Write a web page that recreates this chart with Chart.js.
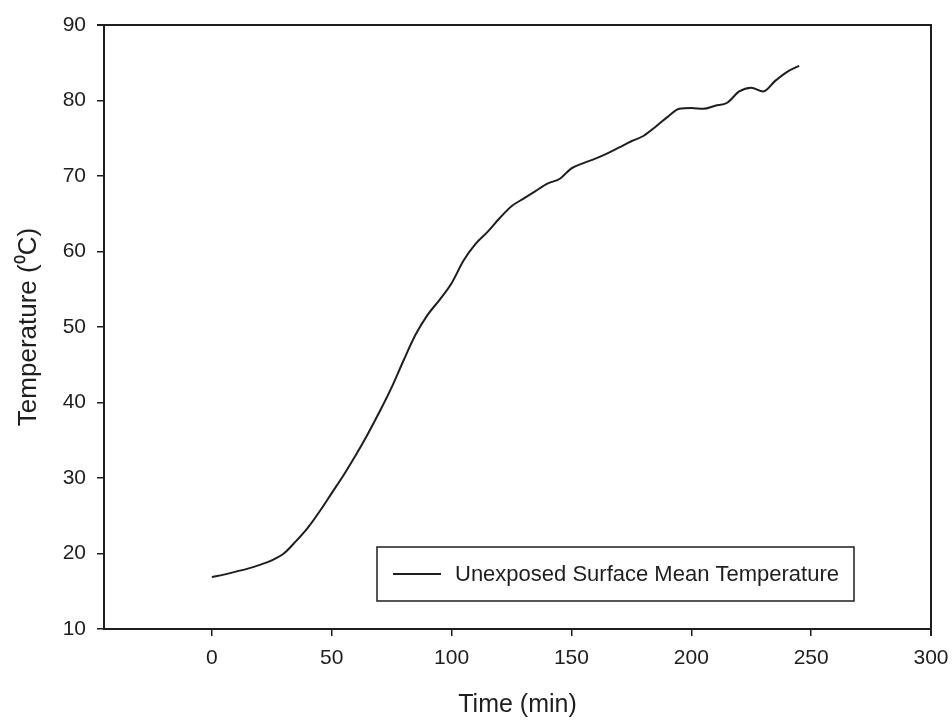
<!DOCTYPE html>
<html>
<head>
<meta charset="utf-8">
<script src="https://cdn.jsdelivr.net/npm/chart.js@4/dist/chart.umd.min.js"></script>
<style>
  html, body { margin: 0; padding: 0; background: #fff; }
  #wrap { width: 952px; height: 722px; position: relative; }
</style>
</head>
<body>
<div id="wrap"><canvas id="c" width="952" height="722"></canvas></div>
<script>
// ---- data ----
const timeMin = [0, 5, 10, 15, 20, 25, 30, 35, 40, 45, 50, 55, 60, 65, 70, 75, 80, 85, 90, 95,
                 100, 105, 110, 115, 120, 125, 130, 135, 140, 145, 150, 155, 160, 165, 170, 175,
                 180, 185, 190, 195, 200, 205, 210, 215, 220, 225, 230, 235, 240, 245];
const meanTemp = [16.9, 17.2, 17.6, 18.0, 18.5, 19.1, 20.0, 21.6, 23.4, 25.6, 28.0, 30.4, 33.0, 35.8, 38.8, 42.0, 45.6, 49.0, 51.6, 53.6,
                  55.8, 58.8, 61.0, 62.6, 64.4, 66.0, 67.0, 68.0, 69.0, 69.6, 71.0, 71.7, 72.3, 73.0, 73.8, 74.6,
                  75.3, 76.5, 77.8, 78.9, 79.0, 78.9, 79.3, 79.7, 81.2, 81.7, 81.2, 82.6, 83.8, 84.6];
const seriesLabel = 'Unexposed Surface Mean Temperature';
const xTickValues = [0, 50, 100, 150, 200, 250, 300];
const yTickValues = [10, 20, 30, 40, 50, 60, 70, 80, 90];
const xTitle = 'Time (min)';
const yTitle = 'Temperature (\u2070C)';

const FONT = "'Liberation Sans', Arial, sans-serif";
const INK = '#1e1e1e';

const framePlugin = {
  id: 'frame',
  afterDatasetsDraw(chart) {
    const { ctx, chartArea: a } = chart;
    ctx.save();
    ctx.strokeStyle = INK;
    ctx.lineWidth = 2;
    ctx.beginPath();
    ctx.moveTo(a.left - 7, a.top);
    ctx.lineTo(a.right, a.top);
    ctx.lineTo(a.right, a.bottom + 7);
    ctx.stroke();
    ctx.restore();
  }
};

const boxLegendPlugin = {
  id: 'boxLegend',
  afterDraw(chart) {
    const { ctx } = chart;
    const ds = chart.data.datasets[0];
    const bx = 377, by = 547, bw = 477, bh = 54;
    ctx.save();
    ctx.fillStyle = '#fff';
    ctx.fillRect(bx, by, bw, bh);
    ctx.strokeStyle = INK;
    ctx.lineWidth = 1.5;
    ctx.strokeRect(bx, by, bw, bh);
    const cy = by + bh / 2;
    ctx.strokeStyle = ds.borderColor;
    ctx.lineWidth = 1.8;
    ctx.beginPath();
    ctx.moveTo(bx + 16, cy);
    ctx.lineTo(bx + 64, cy);
    ctx.stroke();
    ctx.fillStyle = INK;
    ctx.font = '22px ' + FONT;
    ctx.textBaseline = 'middle';
    ctx.textAlign = 'left';
    ctx.fillText(ds.label, bx + 78, cy + 1);
    ctx.restore();
  }
};

new Chart(document.getElementById('c'), {
  type: 'line',
  data: {
    datasets: [{
      label: seriesLabel,
      data: timeMin.map((t, i) => ({ x: t, y: meanTemp[i] })),
      borderColor: INK,
      borderWidth: 2,
      pointRadius: 0,
      fill: false,
      tension: 0.4,
      cubicInterpolationMode: 'monotone'
    }]
  },
  options: {
    responsive: false,
    animation: false,
    devicePixelRatio: 1,
    layout: { padding: { top: 25, right: 21, left: 0, bottom: 0 } },
    plugins: {
      legend: { display: false },
      tooltip: { enabled: false }
    },
    scales: {
      x: {
        type: 'linear',
        min: -45,
        max: 300,
        afterBuildTicks(scale) { scale.ticks = xTickValues.map(v => ({ value: v })); },
        afterFit(scale) { scale.height = 93; scale.paddingRight = 0; scale.paddingLeft = 0; },
        grid: { drawOnChartArea: false, drawTicks: true, tickLength: 7, color: INK, lineWidth: 1.5 },
        border: { display: true, color: INK, width: 2 },
        ticks: { color: INK, font: { family: FONT, size: 21 }, padding: 10, maxRotation: 0, autoSkip: false },
        title: { display: true, text: xTitle, color: INK, font: { family: FONT, size: 25 }, padding: { top: 0, bottom: 2 } }
      },
      y: {
        type: 'linear',
        min: 10,
        max: 90,
        afterBuildTicks(scale) { scale.ticks = yTickValues.map(v => ({ value: v })); },
        afterFit(scale) { scale.width = 104; scale.paddingTop = 0; scale.paddingBottom = 0; },
        grid: { drawOnChartArea: false, drawTicks: true, tickLength: 7, color: INK, lineWidth: 1.5 },
        border: { display: true, color: INK, width: 2 },
        ticks: { color: INK, font: { family: FONT, size: 21 }, padding: 11, autoSkip: false },
        title: { display: true, text: yTitle, color: INK, font: { family: FONT, size: 26 }, padding: { top: 13, bottom: 0 } }
      }
    }
  },
  plugins: [framePlugin, boxLegendPlugin]
});
</script>
</body>
</html>
